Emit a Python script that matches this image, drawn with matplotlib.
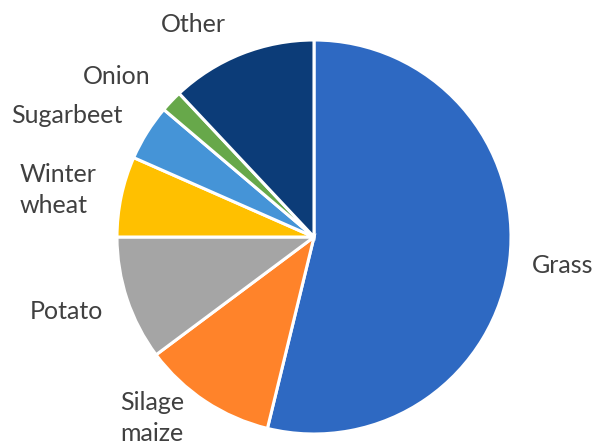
import matplotlib
matplotlib.use('Agg')
import matplotlib.pyplot as plt

crops = ['Grass', 'Silage\nmaize', 'Potato', 'Winter\nwheat', 'Sugarbeet', 'Onion', 'Other']
shares = [53.8, 11.0, 10.2, 6.6, 4.6, 1.8, 12.0]
colors = ['#2E69C2', '#FF832A', '#A5A5A5', '#FFC000', '#4594D7', '#67A84A', '#0C3C78']

# label centres in pie-radius units (Excel style outside labels)
label_pos = [(1.264, -0.147), (-0.822, -0.92), (-1.259, -0.376), (-1.299, 0.24),
             (-1.254, 0.619), (-1.0, 0.817), (-0.614, 1.081)]

fig = plt.figure(figsize=(5.98, 4.45), dpi=100)
ax = fig.add_axes([0, 0, 1, 1])
W, H = 598, 445
cx, cy, r = 314, 237, 197

wedges, texts = ax.pie(shares, labels=crops, colors=colors, startangle=90, counterclock=False,
                       radius=r, center=(cx, H - cy),
                       wedgeprops=dict(edgecolor='white', linewidth=2.2),
                       textprops=dict(fontsize=18, color='#404040', family='Lato'))
for t, (lx, ly) in zip(texts, label_pos):
    t.set_position((cx + lx * r, H - cy + ly * r))
    t.set_ha('center')
    t.set_va('center')
    t.set_multialignment('left')
    t.set_linespacing(1.42)

ax.set_xlim(0, W)
ax.set_ylim(0, H)
ax.set_aspect('equal')
ax.axis('off')
fig.savefig('out.png', dpi=100)
